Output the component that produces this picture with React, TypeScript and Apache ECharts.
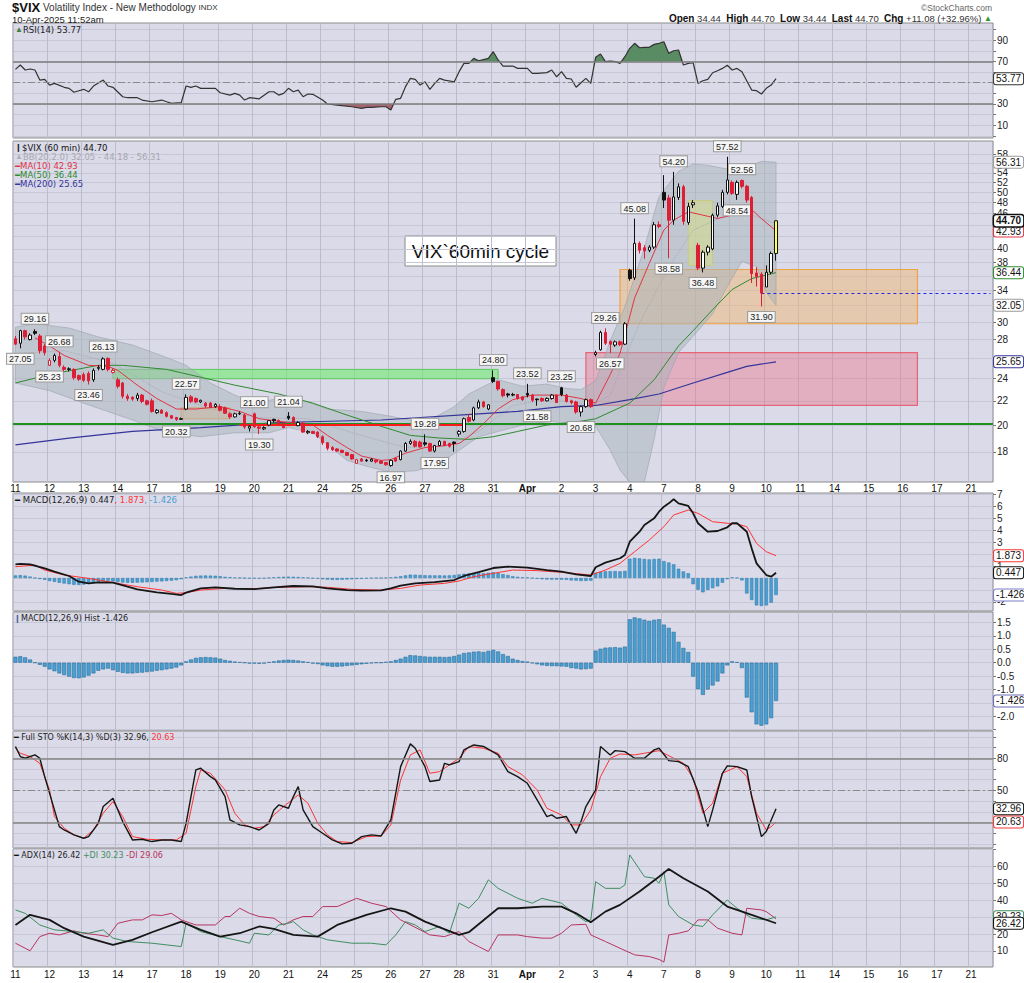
import React, { useEffect, useRef } from 'react';
import * as echarts from 'echarts';

// ---------------- data ----------------
const DAY_LABELS = ['11','12','13','14','17','18','19','20','21','24','25','26','27','28','31','Apr','2','3','4','7','8','9','10','11','14','15','16','17','21'];
const BARS_PER_DAY = 7;
const SLOTS = 201;

// hourly candles: [open, close, low, high]
const CANDLES = [
  // Mar 11
  [28.1,27.5,27.4,28.4],[27.6,29.0,27.05,29.1],[29.0,28.3,28.0,29.1],[28.0,28.5,27.9,28.7],[28.9,28.7,28.5,29.16],[28.4,26.8,26.5,28.6],[27.3,26.6,26.3,27.5],
  // Mar 12
  [25.3,25.8,25.23,26.0],[25.8,26.3,25.6,26.5],[26.2,25.3,25.1,26.68],[25.1,24.9,24.7,25.3],[24.95,24.9,24.7,25.1],[24.9,24.1,23.9,25.0],[24.3,23.95,23.8,24.4],
  // Mar 13
  [24.4,23.85,23.7,24.6],[24.5,23.8,23.46,24.7],[23.9,24.8,23.7,25.0],[25.0,25.1,24.8,25.3],[24.9,25.95,24.8,26.13],[26.0,24.9,24.7,26.1],[24.6,24.8,24.5,25.0],
  // Mar 14
  [23.9,23.3,23.1,24.1],[23.6,22.4,22.2,23.7],[22.4,22.2,22.0,22.6],[22.3,22.15,22.0,22.4],[22.2,22.5,22.0,22.7],[22.5,21.95,21.8,22.6],[22.0,21.7,21.6,22.1],
  // Mar 17
  [22.0,21.1,21.0,22.2],[21.0,21.2,20.9,21.3],[21.2,20.95,20.9,21.3],[21.0,20.7,20.6,21.1],[20.75,20.55,20.5,20.8],[20.6,20.45,20.32,20.65],[20.45,20.51,20.4,20.6],
  // Mar 18
  [21.3,22.3,21.2,22.57],[22.35,21.95,21.8,22.5],[22.2,21.9,21.8,22.3],[21.9,22.05,21.8,22.1],[21.8,21.55,21.4,21.9],[21.8,21.45,21.4,21.9],[21.5,21.7,21.4,21.8],
  // Mar 19
  [21.5,21.2,21.1,21.7],[21.4,20.95,20.9,21.5],[20.9,20.65,20.5,21.0],[20.65,20.9,20.6,21.0],[20.9,20.95,20.8,21.1],[20.8,19.85,19.7,20.9],[19.75,19.9,19.5,20.0],
  // Mar 20
  [20.9,19.85,19.8,21.0],[19.85,19.75,19.3,19.95],[19.7,19.8,19.6,19.9],[20.0,20.35,19.9,20.4],[20.45,20.35,20.2,20.5],[20.35,20.1,20.0,20.45],[20.1,19.8,19.75,20.2],
  // Mar 21
  [20.7,20.55,20.4,21.04],[20.6,20.15,20.0,20.7],[19.95,20.2,19.9,20.3],[20.15,19.45,19.4,20.25],[19.4,19.5,19.3,19.6],[19.5,19.35,19.3,19.55],[19.45,19.1,19.0,19.5],
  // Mar 24
  [19.1,18.65,18.5,19.2],[18.65,18.25,18.1,18.7],[18.3,18.15,18.05,18.4],[18.2,18.05,18.0,18.25],[18.1,17.95,17.9,18.15],[17.95,17.75,17.7,18.0],[17.8,17.5,17.45,17.85],
  // Mar 25
  [17.2,17.45,17.15,17.5],[17.5,17.35,17.3,17.55],[17.42,17.38,17.3,17.5],[17.35,17.48,17.3,17.55],[17.42,17.3,17.2,17.45],[17.35,17.2,17.15,17.4],[17.25,17.1,17.05,17.3],
  // Mar 26
  [17.05,17.4,16.97,17.45],[17.55,17.35,17.3,17.6],[17.45,18.05,17.4,18.1],[18.05,18.6,18.0,18.7],[18.6,18.75,18.5,18.9],[18.75,18.4,18.3,18.85],[18.7,18.35,18.3,18.8],
  // Mar 27
  [18.65,18.55,18.4,19.28],[18.6,18.05,18.0,18.65],[18.05,18.45,17.95,18.5],[18.45,18.75,18.4,18.85],[18.75,18.45,18.4,18.8],[18.6,18.4,18.3,18.65],[18.7,18.6,18.0,18.75],
  // Mar 28
  [19.3,19.5,19.1,19.6],[19.5,20.5,19.4,20.6],[20.6,20.3,20.2,20.9],[20.4,21.4,20.3,21.5],[21.4,21.9,21.3,22.1],[21.9,21.5,21.4,22.0],[21.3,21.65,21.2,21.7],
  // Mar 31
  [24.1,23.75,23.6,24.8],[23.75,23.05,22.9,23.8],[23.0,22.45,22.3,23.1],[22.6,22.5,22.3,22.7],[22.55,22.5,22.4,22.7],[22.55,22.2,22.1,22.6],[22.35,22.1,22.0,22.4],
  // Apr 1
  [22.65,22.5,22.3,23.52],[22.5,22.05,21.9,22.6],[22.15,22.1,21.58,22.2],[22.2,22.0,21.9,22.3],[22.0,22.2,21.95,22.3],[22.2,22.5,22.1,22.6],[22.5,21.85,21.8,22.55],
  // Apr 2
  [23.15,22.55,22.4,23.25],[22.5,21.95,21.85,22.6],[22.0,21.85,21.7,22.1],[21.9,21.05,20.9,22.0],[21.05,21.5,20.68,21.6],[21.5,22.1,21.4,22.2],[22.1,21.5,21.4,22.2],
  // Apr 3
  [26.4,26.6,26.2,26.8],[26.9,28.8,26.8,29.0],[28.8,27.6,27.4,29.26],[27.8,27.5,26.57,27.9],[27.4,27.75,27.2,27.9],[27.75,27.45,27.3,27.9],[27.5,29.8,27.4,30.0],
  // Apr 4
  [36.8,35.6,35.3,37.0],[35.7,40.9,35.4,45.08],[40.9,39.8,39.3,41.2],[40.2,39.7,38.5,40.6],[39.8,40.3,39.5,40.6],[40.3,44.0,40.0,44.5],[44.0,43.7,43.4,44.6],
  // Apr 7
  [50.0,48.5,47.0,53.5],[48.9,44.8,38.58,49.5],[44.8,49.1,44.0,54.2],[49.0,51.1,48.5,51.8],[51.1,44.6,44.0,51.5],[44.4,47.3,44.0,48.0],[47.6,48.0,47.0,48.5],
  // Apr 8
  [40.6,37.1,36.8,41.0],[37.1,39.5,36.48,39.8],[39.5,40.3,39.0,40.6],[40.0,45.7,39.8,46.0],[45.7,47.4,45.3,48.0],[47.3,50.0,47.0,50.5],[50.0,52.5,49.6,57.52],
  // Apr 9
  [52.0,49.8,49.5,52.4],[49.6,52.0,48.54,52.4],[52.4,51.2,50.8,52.56],[51.2,48.5,48.0,51.5],[49.0,36.3,35.0,49.3],[36.4,35.9,34.5,37.2],[36.2,33.62,31.9,36.5],
  // Apr 10
  [34.44,36.5,34.44,37.5],[36.5,39.3,36.2,39.6],[39.3,44.7,38.2,44.7],
];

// overlays: [barIndex, value]
const MA10 = [[4,28.2],[7,27.3],[10,26.3],[15,25.3],[19,25.2],[21,24.8],[25,23.4],[29,22.2],[33,21.3],[37,21.3],[42,21.5],[46,21.1],[50,20.5],[54,20.3],[58,20.1],[61,20.0],[64,19.2],[68,18.3],[71,17.7],[75,17.4],[77,17.45],[80,17.9],[84,18.3],[87,18.4],[91,18.6],[93,19.1],[96,20.1],[99,21.3],[102,22.1],[106,22.5],[112,22.5],[116,22.2],[119,21.8],[122,24.4],[124,26.5],[127,33.0],[130,37.8],[133,43.1],[135,44.8],[138,46.3],[141,45.7],[144,45.1],[147,45.7],[149,47.4],[151,46.7],[153,45.1],[156,42.93]];
const MA50 = [[0,23.6],[7,24.4],[17,25.3],[22,25.3],[31,24.9],[45,23.4],[54,22.6],[61,21.8],[68,20.8],[75,19.9],[81,19.2],[87,19.0],[93,18.9],[98,19.1],[103,19.5],[109,20.0],[116,20.3],[119,20.5],[126,21.8],[131,23.9],[136,27.3],[139,29.0],[143,31.5],[147,34.1],[151,35.6],[156,36.44]];
const MA200 = [[0,18.5],[11,19.0],[24,19.5],[38,19.8],[54,20.2],[75,20.4],[95,20.9],[103,21.1],[112,21.5],[119,21.6],[126,22.1],[132,22.6],[139,23.6],[146,24.6],[150,25.2],[156,25.65]];
const BB_UPPER = [[0,29.4],[4,29.8],[11,29.3],[17,28.3],[24,27.4],[31,26.1],[35,25.3],[40,23.6],[45,22.5],[49,21.8],[54,22.2],[60,21.9],[64,21.3],[71,21.1],[77,20.7],[82,20.3],[85,20.4],[90,21.5],[93,22.6],[97,23.5],[99,23.9],[104,23.3],[109,23.5],[113,23.1],[116,23.0],[119,23.8],[122,27.9],[125,31.9],[129,40.2],[132,49.2],[136,54.3],[139,55.9],[142,55.6],[146,54.8],[149,54.8],[153,56.5],[156,56.31]];
const BB_LOWER = [[0,23.6],[7,22.9],[14,21.8],[24,20.4],[31,19.4],[38,19.1],[45,19.4],[52,19.4],[56,19.8],[61,19.4],[68,17.4],[72,17.0],[77,16.6],[82,16.7],[86,17.0],[91,18.1],[95,19.1],[101,19.7],[104,20.0],[110,20.3],[116,19.9],[119,19.9],[122,18.1],[124,16.75],[126,15.5],[129,15.5],[131,18.9],[133,23.2],[136,26.6],[140,29.0],[143,31.0],[146,34.5],[149,38.1],[152,37.3],[154,33.7],[156,32.05]];
const BB_MID = [[0,26.5],[10,26.8],[20,25.5],[30,22.8],[40,21.3],[50,20.6],[60,20.5],[70,19.3],[80,18.3],[88,18.4],[95,19.5],[102,21.6],[110,22.2],[118,21.6],[122,22.5],[128,29.9],[134,37.2],[139,43.1],[145,45.4],[150,46.0],[156,44.18]];

const RSI = [[0,62.6],[1,66.7],[2,62.0],[3,62.9],[4,62.0],[5,52.5],[6,53.2],[7,47.8],[8,49.4],[10,45.7],[11,44.7],[12,41.0],[13,42.5],[14,43.8],[15,41.5],[16,46.9],[18,52.5],[19,46.9],[20,45.7],[22,36.8],[23,35.9],[25,35.9],[26,33.7],[28,32.1],[30,33.7],[31,32.1],[32,30.6],[34,31.2],[35,46.9],[36,45.7],[37,46.9],[38,44.7],[39,44.7],[41,44.7],[42,40.6],[44,38.4],[45,40.0],[46,38.4],[47,33.7],[48,35.9],[50,34.9],[52,41.5],[53,41.5],[54,38.4],[55,40.0],[56,44.7],[57,41.5],[58,43.1],[59,36.8],[60,39.4],[61,39.1],[63,33.7],[64,30.0],[66,29.0],[69,27.4],[71,25.9],[72,26.8],[73,26.8],[75,27.4],[76,27.4],[77,24.3],[78,34.4],[79,35.3],[80,46.3],[81,54.1],[82,53.2],[83,47.8],[84,50.9],[85,43.8],[86,49.4],[87,54.1],[88,52.5],[90,50.9],[91,60.4],[92,68.2],[93,68.2],[94,72.9],[95,70.7],[97,72.9],[98,79.2],[99,71.4],[100,65.7],[102,65.7],[103,63.5],[105,63.5],[106,58.8],[107,58.8],[109,59.5],[110,62.0],[111,55.6],[112,60.4],[113,54.1],[114,53.5],[115,45.7],[116,50.0],[117,54.1],[118,49.4],[119,73.9],[120,77.0],[121,69.8],[122,70.4],[123,69.8],[124,68.2],[125,74.5],[126,82.4],[127,87.1],[128,82.9],[129,83.3],[130,83.3],[131,86.1],[132,87.1],[133,88.6],[134,77.6],[135,80.1],[136,80.8],[137,66.7],[138,68.2],[139,68.8],[140,49.4],[141,51.9],[142,53.2],[143,59.4],[144,61.3],[145,63.5],[146,66.4],[147,62.0],[148,63.5],[149,60.4],[151,43.1],[152,42.5],[153,39.4],[154,44.7],[155,47.8],[156,53.77]];

const MACD_LINE = [[0,1.15],[1,1.18],[3,1.15],[6,0.81],[8,0.53],[11,0.17],[13,-0.31],[15,-0.45],[17,-0.36],[20,-0.39],[23,-0.73],[25,-0.95],[29,-1.2],[32,-1.34],[34,-1.43],[35,-1.23],[38,-0.87],[41,-0.78],[45,-0.9],[49,-0.93],[53,-0.78],[57,-0.67],[61,-0.7],[64,-0.87],[68,-1.01],[71,-1.06],[75,-1.04],[77,-0.87],[79,-0.64],[82,-0.45],[86,-0.34],[90,-0.17],[92,0.17],[95,0.5],[98,0.84],[101,0.95],[105,0.87],[109,0.67],[112,0.53],[115,0.3],[118,0.17],[119,0.9],[121,1.29],[124,1.66],[125,1.93],[126,3.05],[128,3.89],[129,4.45],[131,5.01],[132,5.57],[133,5.99],[134,6.27],[135,6.61],[136,6.27],[138,6.05],[139,5.43],[140,4.6],[142,3.89],[144,3.95],[146,4.26],[147,4.6],[148,4.6],[150,3.89],[151,2.49],[152,1.23],[154,0.25],[155,0.11],[156,0.447]];
const MACD_SIGNAL = [[0,0.95],[4,1.09],[6,0.67],[10,0.25],[15,-0.03],[17,-0.17],[21,-0.45],[25,-0.73],[30,-1.01],[33,-1.29],[35,-1.23],[38,-1.01],[43,-0.87],[49,-0.9],[54,-0.78],[60,-0.73],[64,-0.78],[69,-0.95],[75,-1.01],[79,-0.87],[83,-0.59],[88,-0.45],[91,-0.25],[94,0.11],[98,0.39],[102,0.67],[107,0.62],[113,0.45],[118,0.25],[121,0.67],[124,1.23],[127,2.21],[130,3.19],[133,4.31],[135,5.29],[138,5.71],[140,5.43],[143,4.73],[146,4.6],[148,4.54],[150,4.31],[151,3.61],[152,2.91],[154,2.21],[156,1.873]];
const MACD_HIST = [0.22,0.24,0.2,0.12,0.0,-0.08,-0.15,-0.25,-0.32,-0.4,-0.46,-0.52,-0.57,-0.58,-0.55,-0.48,-0.4,-0.3,-0.25,-0.22,-0.28,-0.34,-0.38,-0.4,-0.4,-0.38,-0.37,-0.35,-0.33,-0.3,-0.28,-0.25,-0.22,-0.18,-0.1,0.05,0.12,0.18,0.2,0.21,0.2,0.19,0.15,0.1,0.07,0.04,0.02,0.0,-0.03,-0.03,-0.04,-0.03,0.02,0.05,0.08,0.1,0.11,0.1,0.08,0.05,0.02,-0.03,-0.05,-0.1,-0.13,-0.15,-0.15,-0.14,-0.12,-0.1,-0.08,-0.06,-0.04,-0.02,0.0,0.0,0.03,0.05,0.1,0.15,0.22,0.28,0.27,0.25,0.23,0.22,0.22,0.22,0.21,0.22,0.25,0.3,0.36,0.38,0.41,0.42,0.4,0.44,0.48,0.42,0.32,0.25,0.15,0.1,0.06,0.04,-0.02,-0.06,-0.1,-0.12,-0.13,-0.13,-0.14,-0.15,-0.2,-0.22,-0.25,-0.24,-0.22,0.45,0.52,0.56,0.57,0.58,0.56,0.6,1.62,1.69,1.65,1.6,1.56,1.6,1.62,1.42,1.3,1.15,0.78,0.55,0.4,-0.52,-0.99,-1.2,-1.0,-0.85,-0.7,-0.4,-0.1,0.05,0.02,-0.2,-1.3,-1.85,-2.3,-2.35,-2.3,-2.07,-1.426];

const STO_K = [[0,90.9],[1,81.6],[2,80],[4,83.1],[5,80],[6,62.9],[8,31.9],[9,16.3],[10,13.2],[12,8.6],[14,5.5],[15,7.0],[17,19.4],[18,35.0],[20,42.7],[22,21.0],[24,3.9],[26,4.5],[28,2.4],[30,3.9],[32,3.9],[34,2.4],[35,19.4],[37,69.1],[38,70.7],[40,62.9],[41,59.8],[43,44.3],[44,22.5],[46,17.9],[48,16.3],[50,13.2],[52,19.4],[53,31.9],[54,36.5],[56,33.4],[57,44.3],[58,53.6],[59,31.9],[61,16.3],[63,10.1],[65,3.9],[67,0.2],[69,0.8],[71,7.0],[73,8.6],[75,7.6],[77,22.5],[79,72.2],[81,93.4],[82,89.3],[84,72.2],[85,58.3],[87,59.8],[88,75.3],[89,73.8],[91,76.9],[92,87.8],[94,92.4],[96,91],[99,83.1],[101,67.6],[103,62.9],[105,56.7],[107,41.2],[109,25.7],[110,27.2],[111,24.1],[113,25.7],[115,10.1],[116,21.0],[117,35.0],[119,50.5],[120,91],[122,83.1],[123,87.1],[125,86.2],[127,80],[129,80],[131,87.8],[132,89.3],[134,77.8],[136,76.9],[138,72.2],[140,48.9],[142,16.3],[143,31.9],[145,66.0],[146,72.9],[148,72.2],[150,69.1],[151,44.3],[153,7.0],[154,11.7],[156,32.96]];
const STO_D = [[0,89.3],[1,84.7],[3,81.6],[5,75.3],[7,50.5],[8,25.7],[10,14.8],[12,8.6],[14,5.5],[16,13.2],[18,28.8],[20,39.6],[22,25.7],[24,7.0],[27,4.5],[30,3.9],[33,3.9],[35,10.1],[37,53.6],[38,69.1],[40,66.0],[43,50.5],[45,28.8],[47,17.9],[49,14.8],[51,16.3],[53,27.2],[55,35.0],[58,45.8],[60,38.1],[62,19.4],[64,8.6],[66,2.4],[69,1.4],[72,7.0],[75,7.6],[77,17.9],[79,59.8],[81,83.1],[83,87.8],[85,66.0],[87,67.6],[89,73.8],[91,80],[93,90.9],[96,89.3],[99,84.7],[101,72.2],[104,64.5],[107,50.5],[109,33.4],[112,27.2],[114,17.9],[116,17.9],[118,31.9],[120,62.9],[122,80],[124,84],[127,83.1],[129,84.7],[132,87.1],[135,80],[137,75.3],[139,61.4],[141,28.8],[143,38.1],[145,66.0],[148,72.2],[150,62.9],[152,28.8],[154,13.2],[155,16.3],[156,20.63]];

const ADX = [[0,25.4],[3,31.4],[7,28.4],[10,23.5],[14,18.5],[20,13.6],[24,16.6],[28,21.1],[34,27.4],[38,22.5],[42,18.5],[46,20.5],[50,24.5],[53,23.1],[57,19.5],[62,18.5],[66,25.4],[72,31.4],[77,35.3],[80,33.3],[84,27.4],[91,19.5],[93,21.1],[99,35.3],[103,35.3],[108,36.3],[112,36.3],[115,32.3],[118,27.0],[121,33.3],[124,37.3],[128,45.2],[132,54.0],[134,58.6],[137,53.1],[142,45.2],[146,36.3],[148,34.3],[151,31.4],[156,26.42]];
const PLUS_DI = [[0,34.3],[2,32.3],[5,25.4],[8,22.5],[12,21.5],[15,20.5],[18,22.5],[20,17.6],[23,15.6],[28,14.6],[31,13.6],[34,12.6],[35,26.4],[38,21.5],[42,18.5],[45,16.6],[48,14.6],[49,20.5],[52,19.5],[54,25.4],[56,26.4],[57,27.4],[59,22.5],[61,19.5],[64,16.6],[69,14.6],[73,14.6],[76,13.6],[78,19.5],[80,27.4],[82,25.4],[84,21.5],[87,24.5],[89,20.5],[91,38.3],[93,35.3],[95,41.2],[97,52.1],[99,47.1],[103,41.2],[106,38.3],[108,41.2],[112,38.3],[115,31.4],[117,27.4],[118,28.4],[119,51.1],[121,47.1],[124,47.1],[125,49.1],[126,66.9],[129,54.0],[131,53.1],[132,50.1],[133,57.0],[134,37.3],[136,30.4],[139,25.4],[141,24.5],[143,31.4],[146,40.2],[148,35.3],[151,29.4],[154,28.4],[156,30.23]];
const MINUS_DI = [[0,14.6],[2,11.6],[3,10.1],[5,18.5],[7,20.5],[9,19.5],[12,21.9],[14,20.5],[17,19.5],[19,18.5],[21,26.4],[24,28.4],[26,28.4],[28,31.4],[30,31.0],[32,32.3],[34,28.4],[37,25.4],[41,25.4],[43,30.4],[44,30.4],[46,35.3],[48,32.3],[50,30.4],[53,29.4],[55,25.4],[57,28.4],[59,30.4],[61,30.4],[63,36.3],[66,36.3],[70,41.2],[73,38.3],[76,36.3],[79,28.4],[83,22.5],[85,19.5],[88,18.5],[91,21.5],[93,15.6],[95,12.6],[97,9.7],[99,19.5],[103,19.5],[105,18.5],[108,17.6],[110,17.6],[112,20.5],[114,25.4],[117,25.8],[118,19.5],[121,15.6],[124,11.6],[127,7.7],[130,6.7],[132,5.0],[133,3.4],[134,19.5],[136,20.5],[138,21.9],[140,28.4],[142,28.4],[144,23.5],[147,20.5],[149,19.5],[150,35.3],[153,34.3],[154,33.3],[156,29.06]];

// swing-point callouts: [barIndex, price, 'h' | 'l']
const SWINGS = [[4,29.16,'h'],[1,27.05,'l'],[9,26.68,'h'],[7,25.23,'l'],[18,26.13,'h'],[15,23.46,'l'],[35,22.57,'h'],[33,20.32,'l'],[49,21.00,'h'],[50,19.30,'l'],[56,21.04,'h'],[77,16.97,'l'],[84,19.28,'h'],[86,17.95,'l'],[98,24.80,'h'],[105,23.52,'h'],[107,21.58,'l'],[112,23.25,'h'],[116,20.68,'l'],[121,29.26,'h'],[122,26.57,'l'],[127,45.08,'h'],[134,38.58,'l'],[135,54.20,'h'],[141,36.48,'l'],[146,57.52,'h'],[149,52.56,'h'],[148,48.54,'l'],[153,31.90,'l']];

// user-drawn zones: [fromBar, toBar, lowPrice, highPrice, kind]
const ZONES = [[20,99,24.0,24.9,'green'],[34,44,20.5,21.4,'orange'],[117,185,21.6,26.6,'pink'],[124,185,29.8,36.9,'orange'],[138,143,37.5,48.4,'yellow']];
const SUPPORT_LEVEL = 20.0;
const RED_SEGMENT = [46, 92, 20.0];
const PREV_CLOSE_LINE = [153, 200, 33.62];

// axis ticks / labels
const PRICE_TICKS = [18,20,22,24,26,28,30,32,34,36,38,40,42,44,46,48,50,52,54,56,58];
const PRICE_LABELS = [18,20,22,24,28,30,34,38,40,46,48,50,52,54,58];
const RSI_LABELS = [10,30,70,90];
const MACD_LABELS = [-2,1,3,4,5,6,7];
const HIST_LABELS = [1.5,1,0.5,0,-0.5,-1,-2];
const STO_LABELS = [50,80];
const ADX_LABELS = [10,20,40,50,60];

// ---------------- helpers ----------------
const AXF = '"Liberation Sans", Arial, sans-serif';
const LGF = '"DejaVu Sans", Verdana, sans-serif';
const RED = '#dd1e35';
const last = (p: number[][]) => p[p.length - 1][1];

function sparse(pairs: number[][], tf = (v: number) => v) {
  const a: (number | null)[] = new Array(SLOTS).fill(null);
  pairs.forEach(([i, v]) => { a[i] = tf(v); });
  return a;
}
function steps(a: number, b: number, s: number) {
  const r: number[] = [];
  for (let v = a; v <= b + 1e-9; v += s) r.push(+v.toFixed(4));
  return r;
}
function coordF(api: any, x: number, y: number) {
  const i0 = Math.floor(x);
  const f = x - i0;
  const a = api.coord([i0, y]);
  if (f < 1e-9) return a;
  const b = api.coord([i0 + 1, y]);
  return [a[0] + (b[0] - a[0]) * f, a[1]];
}
function levelFill(pairs: number[][], level: number, above: boolean) {
  const pts: number[][] = [];
  pairs.forEach(([x, v], k) => {
    if (k > 0) {
      const [x0, v0] = pairs[k - 1];
      if ((v0 - level) * (v - level) < 0) {
        const t = (level - v0) / (v - v0);
        pts.push([x0 + t * (x - x0), level]);
      }
    }
    pts.push([x, above ? Math.max(v, level) : Math.min(v, level)]);
  });
  return [[pairs[0][0], level], ...pts, [pairs[pairs.length - 1][0], level]];
}

function buildOption() {
  const L = Math.log;
  const PMIN = L(15.98), PMAX = L(61.2);
  const categories: string[] = [];
  DAY_LABELS.forEach((d) => { for (let k = 0; k < BARS_PER_DAY; k++) categories.push(k === 0 ? d : ''); });
  categories.length = SLOTS;
  const isDay = (_i: number, v: string) => v !== '';

  const grids = [
    { top: 23, height: 115 },
    { top: 141, height: 341 },
    { top: 493, height: 118 },
    { top: 612, height: 118 },
    { top: 731, height: 117 },
    { top: 849, height: 118 },
  ].map((g) => ({ left: 13, width: 980, top: g.top, height: g.height, show: true, backgroundColor: '#dadae8', borderColor: '#8c8c8c', borderWidth: 1 }));

  const xAxes = grids.map((_g, i) => ({
    type: 'category', gridIndex: i, data: categories, boundaryGap: true,
    axisLine: { show: false }, axisTick: { show: false },
    axisLabel: {
      show: i === 1 || i === 5, interval: isDay, fontSize: 10, color: '#111', margin: i === 1 ? 1 : 2, fontFamily: AXF,
      formatter: (v: string) => (v === 'Apr' ? '{b|Apr}' : v),
      rich: { b: { fontWeight: 'bold', fontSize: 10, fontFamily: AXF, color: '#111' } },
    },
    splitLine: { show: true, interval: isDay, lineStyle: { color: '#bcbccd', width: 1 } },
  }));

  const yAx = (gridIndex: number, min: number, max: number, ticks: number[], labels: number[], fmt: (v: number) => string) => ({
    type: 'value', gridIndex, position: 'right', min, max,
    axisLine: { show: false },
    axisTick: { show: true, length: 3, customValues: ticks, lineStyle: { color: '#777' } },
    axisLabel: { show: true, customValues: labels, formatter: fmt, fontSize: 10, color: '#222', margin: 4, fontFamily: AXF },
    splitLine: { show: true, lineStyle: { color: '#c7c7d7', width: 1 } },
  });
  const r0 = (v: number) => String(Math.round(v));
  const yAxes = [
    yAx(0, -2, 106.2, steps(0, 100, 10), RSI_LABELS, r0),
    yAx(1, PMIN, PMAX, PRICE_TICKS.map(L), PRICE_LABELS.map(L), (v) => String(Math.round(Math.exp(v)))),
    yAx(2, -2.77, 7.14, steps(-2, 7, 1), MACD_LABELS, r0),
    yAx(3, -2.51, 1.89, steps(-2.5, 1.5, 0.5), HIST_LABELS, (v) => v.toFixed(1)),
    yAx(4, -3.6, 105.4, steps(0, 100, 10), STO_LABELS, r0),
    yAx(5, 0.5, 70.4, steps(10, 70, 10), ADX_LABELS, r0),
  ];

  const line = (grid: number, pairs: number[][], color: string, width: number, tf?: (v: number) => number, extra: any = {}) => ({
    type: 'line', xAxisIndex: grid, yAxisIndex: grid, data: sparse(pairs, tf), connectNulls: true,
    showSymbol: false, symbol: 'none', silent: true, lineStyle: { color, width }, itemStyle: { color }, z: 3, ...extra,
  });
  const tag = (x: number, y: number, text: string, border: string, bold = false) => ({
    coord: [x, y], symbol: 'circle', symbolSize: 1, itemStyle: { color: 'rgba(0,0,0,0)' },
    label: {
      show: true, position: 'right', distance: 3, formatter: text, backgroundColor: '#fff', borderColor: border,
      borderWidth: bold ? 1.5 : 1, borderRadius: 2, padding: [1, 2, 0, 2], color: '#111', fontSize: 10,
      fontWeight: bold ? 'bold' : 'normal', fontFamily: AXF,
    },
  });
  const mp = (data: any[]) => ({ silent: true, animation: false, data });
  const END = SLOTS - 1;

  // candles
  const candleData = CANDLES.map(([o, c, l, h], i) => {
    const prev = i > 0 ? CANDLES[i - 1][1] : o;
    const col = c < prev ? RED : '#111';
    const up = c >= o;
    const fill = up ? (i === CANDLES.length - 1 ? '#ffff55' : '#ffffff') : col;
    return { value: [L(o), L(c), L(l), L(h)], itemStyle: { color: fill, color0: fill, borderColor: col, borderColor0: col } };
  });
  const lastClose = CANDLES[CANDLES.length - 1][1];

  const zoneStyle: any = {
    green: { color: 'rgba(110,235,110,0.6)', borderColor: '#62c862', borderWidth: 1 },
    orange: { color: 'rgba(246,178,95,0.42)', borderColor: 'rgba(238,160,60,0.95)', borderWidth: 1.2 },
    pink: { color: 'rgba(240,105,130,0.38)', borderColor: 'rgba(232,90,110,0.9)', borderWidth: 1.2 },
    yellow: { color: 'rgba(255,255,110,0.68)', borderColor: 'rgba(225,225,60,0.95)', borderWidth: 1 },
  };

  const swingPoints = SWINGS.map(([i, v, k]: any) => ({
    coord: [i, L(v)], symbol: 'circle', symbolSize: 1, itemStyle: { color: 'rgba(0,0,0,0)' },
    label: {
      show: true, position: k === 'h' ? 'top' : 'bottom', distance: 5, formatter: v.toFixed(2),
      backgroundColor: '#f6f6f6', borderColor: '#9a9a9a', borderWidth: 1, padding: [1, 2, 0, 2],
      color: '#222', fontSize: 9, fontFamily: AXF,
    },
  }));

  const series: any[] = [
    // RSI fills
    {
      type: 'custom', xAxisIndex: 0, yAxisIndex: 0, silent: true, z: 2, clip: true, data: [[0, 50]],
      renderItem: (_p: any, api: any) => ({
        type: 'group', children: [
          { type: 'polygon', shape: { points: levelFill(RSI, 70, true).map((p) => coordF(api, p[0], p[1])) }, style: { fill: '#5a8c63' } },
          { type: 'polygon', shape: { points: levelFill(RSI, 30, false).map((p) => coordF(api, p[0], p[1])) }, style: { fill: '#a9646f' } },
        ],
      }),
    },
    line(0, RSI, '#333', 1.2, undefined, {
      markLine: {
        silent: true, symbol: ['none', 'none'], label: { show: false }, animation: false,
        data: [
          { yAxis: 70, lineStyle: { color: '#7d7d7d', width: 1.5, type: 'solid' } },
          { yAxis: 30, lineStyle: { color: '#7d7d7d', width: 1.5, type: 'solid' } },
          { yAxis: 50, lineStyle: { color: '#8a8a8a', width: 1, type: [7, 3, 2, 3] } },
        ],
      },
      markPoint: mp([tag(END, last(RSI), last(RSI).toFixed(2), '#333')]),
    }),
    // Bollinger band
    {
      type: 'custom', xAxisIndex: 1, yAxisIndex: 1, silent: true, z: 1, clip: true, data: [[0, L(20)]],
      renderItem: (_p: any, api: any) => {
        const clampY = (v: number) => Math.min(PMAX, Math.max(PMIN, L(v)));
        const up = BB_UPPER.map(([i, v]) => coordF(api, i, clampY(v)));
        const lo = BB_LOWER.slice().reverse().map(([i, v]) => coordF(api, i, clampY(v)));
        return { type: 'polygon', shape: { points: up.concat(lo) }, style: { fill: 'rgba(168,180,186,0.5)', stroke: 'rgba(150,160,168,0.7)', lineWidth: 0.8 } };
      },
    },
    line(1, BB_MID, '#a9a9b4', 1, L, {
      lineStyle: { color: '#a9a9b4', width: 1, type: 'dotted' },
      markPoint: mp([
        tag(END, L(last(BB_UPPER)), last(BB_UPPER).toFixed(2), '#9a9a9a'),
        tag(END, L(last(BB_LOWER)), last(BB_LOWER).toFixed(2), '#9a9a9a'),
      ]),
    }),
    line(1, MA200, '#34349a', 1.2, L, { markPoint: mp([tag(END, L(last(MA200)), last(MA200).toFixed(2), '#34349a')]) }),
    line(1, MA50, '#2f8a2f', 1, L, { markPoint: mp([tag(END, L(last(MA50)), last(MA50).toFixed(2), '#2f8a2f')]) }),
    line(1, MA10, '#e03545', 1, L, { markPoint: mp([tag(END, L(last(MA10)), last(MA10).toFixed(2), '#e03545')]) }),
    {
      type: 'candlestick', xAxisIndex: 1, yAxisIndex: 1, data: candleData, barWidth: 3, silent: true, z: 5,
      itemStyle: { color: '#fff', color0: RED, borderColor: '#111', borderColor0: RED, borderWidth: 1 },
    },
    // annotations
    {
      type: 'line', xAxisIndex: 1, yAxisIndex: 1, data: [], silent: true, z: 8,
      markArea: {
        silent: true, animation: false,
        data: ZONES.map(([a, b, lo, hi, k]: any) => [
          { coord: [a, L(lo)], itemStyle: zoneStyle[k] },
          { coord: [b, L(hi)] },
        ]),
      },
      markLine: {
        silent: true, symbol: ['none', 'none'], label: { show: false }, animation: false,
        data: [
          { yAxis: L(SUPPORT_LEVEL), lineStyle: { color: '#1f8f1f', width: 2, type: 'solid' } },
          [
            { coord: [RED_SEGMENT[0], L(RED_SEGMENT[2])], lineStyle: { color: '#ff1a1a', width: 2, type: 'solid' } },
            { coord: [RED_SEGMENT[1], L(RED_SEGMENT[2])], lineStyle: { color: '#ff1a1a', width: 2, type: 'solid' } },
          ],
          [
            { coord: [PREV_CLOSE_LINE[0], L(PREV_CLOSE_LINE[2])], lineStyle: { color: '#2626e0', width: 1, type: [3, 3] } },
            { coord: [PREV_CLOSE_LINE[1], L(PREV_CLOSE_LINE[2])], lineStyle: { color: '#2626e0', width: 1, type: [3, 3] } },
          ],
        ],
      },
      markPoint: { silent: true, animation: false, data: [...swingPoints, tag(END, L(lastClose), lastClose.toFixed(2), '#111', true)] },
    },
    // MACD
    {
      type: 'bar', xAxisIndex: 2, yAxisIndex: 2, data: MACD_HIST, barWidth: 3.4, silent: true, z: 2,
      itemStyle: { color: '#4a9fd2', borderColor: '#2c78a8', borderWidth: 0.5 },
      markPoint: mp([tag(END, MACD_HIST[MACD_HIST.length - 1], MACD_HIST[MACD_HIST.length - 1].toFixed(3), '#7c7cc8')]),
    },
    line(2, MACD_SIGNAL, '#ff3434', 1, undefined, { markPoint: mp([tag(END, last(MACD_SIGNAL), last(MACD_SIGNAL).toFixed(3), '#ff3434')]) }),
    line(2, MACD_LINE, '#161616', 1.8, undefined, { markPoint: mp([tag(END, last(MACD_LINE), last(MACD_LINE).toFixed(3), '#111')]) }),
    // Histogram
    {
      type: 'bar', xAxisIndex: 3, yAxisIndex: 3, data: MACD_HIST, barWidth: 4, silent: true, z: 2,
      itemStyle: { color: '#4a9fd2', borderColor: '#2c6f9c', borderWidth: 0.6 },
      markPoint: mp([tag(END, MACD_HIST[MACD_HIST.length - 1], MACD_HIST[MACD_HIST.length - 1].toFixed(3), '#6a6ab8')]),
    },
    // STO
    line(4, STO_D, '#ff3434', 1, undefined, {
      markLine: {
        silent: true, symbol: ['none', 'none'], label: { show: false }, animation: false,
        data: [
          { yAxis: 80, lineStyle: { color: '#858585', width: 1.5, type: 'solid' } },
          { yAxis: 20, lineStyle: { color: '#858585', width: 1.5, type: 'solid' } },
          { yAxis: 50, lineStyle: { color: '#8a8a8a', width: 1, type: [7, 3, 2, 3] } },
        ],
      },
      markPoint: mp([tag(END, last(STO_D), last(STO_D).toFixed(2), '#ff3434')]),
    }),
    line(4, STO_K, '#161616', 1.4, undefined, { markPoint: mp([tag(END, last(STO_K), last(STO_K).toFixed(2), '#111')]) }),
    // ADX
    line(5, MINUS_DI, '#b8345e', 1, undefined, { markPoint: mp([tag(END, last(MINUS_DI), last(MINUS_DI).toFixed(2), '#b8345e')]) }),
    line(5, PLUS_DI, '#3f8d5f', 1, undefined, { markPoint: mp([tag(END, last(PLUS_DI), last(PLUS_DI).toFixed(2), '#3f8d5f')]) }),
    line(5, ADX, '#161616', 1.8, undefined, { markPoint: mp([tag(END, last(ADX), last(ADX).toFixed(2), '#111')]) }),
  ];

  // ----- texts -----
  const txt = (x: number, y: number, text: string, rich: any, font: string, fill = '#222', align = 'left') => ({
    type: 'text', x, y, silent: true, z: 100,
    style: { text, rich, font, fill, align, verticalAlign: 'top', textAlign: align, textVerticalAlign: 'top' },
  });
  const lf = `8.5px ${LGF}`;
  const f = (c: string, font = lf) => ({ fill: c, font });
  const graphic: any[] = [
    txt(12, 1, '{a|$VIX} {b|Volatility Index - New Methodology} {c|INDX}', {
      a: f('#111', `bold 13px ${AXF}`), b: f('#333', `10px ${AXF}`), c: f('#333', `8px ${AXF}`),
    }, `10px ${AXF}`),
    txt(12, 14, '10-Apr-2025 11:52am', null, `9.5px ${AXF}`, '#222'),
    txt(992, 3, '\u00A9StockCharts.com', null, `8.5px ${AXF}`, '#666', 'right'),
    txt(992, 13, `{k|Open} ${CANDLES[CANDLES.length - 3][0].toFixed(2)}  {k|High} ${lastClose.toFixed(2)}  {k|Low} ${CANDLES[CANDLES.length - 3][2].toFixed(2)}  {k|Last} ${lastClose.toFixed(2)}  {k|Chg} +11.08 (+32.96%) {g|\u25B2}`, {
      k: f('#111', `bold 10px ${AXF}`), g: f('#2a9a2a', `8px ${AXF}`),
    }, `9.5px ${AXF}`, '#333', 'right'),
    txt(15, 25, `{i|\u25B2}{t|RSI(14) ${last(RSI).toFixed(2)}}`, { i: f('#3f7f4a', `8px ${AXF}`), t: f('#222') }, lf),
    txt(15, 143, `{i|\u2759}{t|$VIX (60 min) ${lastClose.toFixed(2)}}`, { i: f('#222', `8px ${AXF}`), t: f('#111') }, lf),
    txt(15, 152, `{i|\u25B2}{t|BB(20,2.0) ${last(BB_LOWER).toFixed(2)} - ${last(BB_MID).toFixed(2)} - ${last(BB_UPPER).toFixed(2)}}`, { i: f('#b0b0b8', `8px ${AXF}`), t: f('#a8a8b0') }, lf),
    txt(15, 161, `{d|\u2501}{t|MA(10) ${last(MA10).toFixed(2)}}`, { d: f('#e03545'), t: f('#e03545') }, lf),
    txt(15, 170, `{d|\u2501}{t|MA(50) ${last(MA50).toFixed(2)}}`, { d: f('#2f8a2f'), t: f('#2f8a2f') }, lf),
    txt(15, 179, `{d|\u2501}{t|MA(200) ${last(MA200).toFixed(2)}}`, { d: f('#34349a'), t: f('#34349a') }, lf),
    txt(15, 495, `{d|\u2501} {k|MACD(12,26,9) ${last(MACD_LINE).toFixed(3)}}{r|, ${last(MACD_SIGNAL).toFixed(3)}}{b|, ${MACD_HIST[MACD_HIST.length - 1].toFixed(3)}}`, {
      d: f('#111'), k: f('#222'), r: f('#ff3434'), b: f('#4a9fd2'),
    }, lf),
    txt(14, 614, `{i|\u2759}{k|MACD(12,26,9) Hist ${MACD_HIST[MACD_HIST.length - 1].toFixed(3)}}`, { i: f('#4060a0', `8px ${AXF}`), k: f('#222', `8px ${LGF}`) }, `8px ${LGF}`),
    txt(14, 733, `{d|\u2501}{k| Full STO %K(14,3) %D(3) ${last(STO_K).toFixed(2)}, }{r|${last(STO_D).toFixed(2)}}`, {
      d: f('#111', `8px ${LGF}`), k: f('#222', `8px ${LGF}`), r: f('#ff3434', `8px ${LGF}`),
    }, `8px ${LGF}`),
    txt(14, 851, `{d|\u2501}{k| ADX(14) ${last(ADX).toFixed(2)} }{g|+DI ${last(PLUS_DI).toFixed(2)} }{r|-DI ${last(MINUS_DI).toFixed(2)}}`, {
      d: f('#111', `8px ${LGF}`), k: f('#222', `8px ${LGF}`), g: f('#3f8d5f', `8px ${LGF}`), r: f('#b8345e', `8px ${LGF}`),
    }, `8px ${LGF}`),
    {
      type: 'group', z: 100, silent: true,
      children: [
        { type: 'rect', shape: { x: 405, y: 236, width: 151, height: 30 }, style: { fill: '#ffffff', stroke: '#8a8a8a', lineWidth: 1 } },
        { type: 'text', x: 480.5, y: 251, style: { text: 'VIX`60min cycle', font: `19px ${AXF}`, fill: '#111', align: 'center', verticalAlign: 'middle', textAlign: 'center', textVerticalAlign: 'middle' } },
      ],
    },
  ];

  return {
    animation: false,
    backgroundColor: '#ffffff',
    grid: grids,
    xAxis: xAxes,
    yAxis: yAxes,
    series,
    graphic,
  };
}

export default function App() {
  const ref = useRef<HTMLDivElement>(null);
  useEffect(() => {
    const chart = echarts.init(ref.current as HTMLDivElement, null, { renderer: 'svg' });
    chart.setOption(buildOption() as any);
    return () => chart.dispose();
  }, []);
  return <div ref={ref} style={{ position: 'fixed', left: 0, top: 0, width: 1024, height: 983, background: '#fff' }} />;
}
